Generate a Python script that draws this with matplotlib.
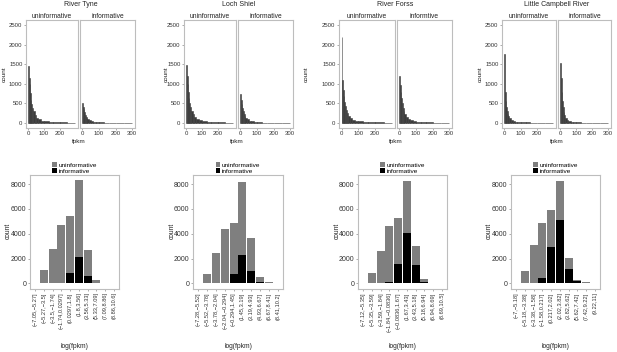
import numpy as np
import matplotlib
matplotlib.use("Agg")
import matplotlib.pyplot as plt

plt.rcParams['font.family'] = ['Liberation Sans', 'DejaVu Sans']

W, H = 617, 352

rivers = ['River Tyne', 'Loch Shiel', 'River Forss', 'Little Campbell River']
facet_names = [['uninformative', 'informative'],
               ['uninformative', 'informative'],
               ['uninformative', 'informtive'],
               ['uninformative', 'informative']]

# fpkm histogram bins (heights)
fpkm_edges = [0, 4, 8, 12, 16, 20, 25, 30, 40, 50, 65, 80, 100, 130, 160, 200,
              250, 300]

tyne_uninf = [1450, 1150, 990, 760, 600, 490, 380, 300, 210, 140, 95, 65, 45, 33,
              25, 18, 12]
tyne_inf = [520, 420, 350, 270, 210, 165, 130, 100, 70, 48, 33, 23, 16, 12, 9, 6, 4]
shiel_uninf = [1480, 1200, 1000, 800, 640, 510, 400, 310, 220, 150, 100, 70, 48,
               35, 26, 19, 12]
shiel_inf = [730, 600, 480, 380, 300, 235, 180, 135, 95, 65, 45, 30, 21, 15, 11,
             8, 5]
forss_uninf = [2200, 1100, 850, 680, 540, 430, 340, 260, 190, 130, 90, 62, 44, 32,
               24, 17, 11]
forss_inf = [1200, 980, 790, 630, 500, 390, 300, 225, 160, 108, 74, 50, 35, 25,
             18, 12, 8]
lcr_uninf = [1750, 780, 560, 420, 320, 240, 180, 125, 85, 58, 40, 30, 22, 17, 13,
             10, 7]
lcr_inf = [1520, 1160, 800, 560, 400, 285, 200, 130, 80, 50, 33, 22, 16, 12, 9,
           7, 5]

fpkm_counts = [(tyne_uninf, tyne_inf), (shiel_uninf, shiel_inf),
               (forss_uninf, forss_inf), (lcr_uninf, lcr_inf)]

# log(fpkm) binned counts: total height and informative part
tyne_bins = ['(−7.05,−5.27]', '(−5.27,−3.5]', '(−3.5,−1.74]', '(−1.74,0.0297]',
             '(0.0297,1.8]', '(1.8,3.56]', '(3.56,5.33]', '(5.33,7.09]',
             '(7.09,8.86]', '(8.86,10.6]']
shiel_bins = ['(−7.28,−5.52]', '(−5.52,−3.78]', '(−3.78,−2.04]', '(−2.04,−0.294]',
              '(−0.294,1.45]', '(1.45,3.19]', '(3.19,4.93]', '(4.93,6.67]',
              '(6.67,8.41]', '(8.41,10.2]']
forss_bins = ['(−7.12,−5.35]', '(−5.35,−3.59]', '(−3.59,−1.84]', '(−1.84,−0.0836]',
              '(−0.0836,1.67]', '(1.67,3.43]', '(3.43,5.18]', '(5.18,6.94]',
              '(6.94,8.69]', '(8.69,10.5]']
lcr_bins = ['(−7,−5.18]', '(−5.18,−3.38]', '(−3.38,−1.58]', '(−1.58,0.217]',
            '(0.217,2.02]', '(2.02,3.82]', '(3.82,5.62]', '(5.62,7.42]',
            '(7.42,9.22]', '(9.22,11]']

tyne_total = [30, 1050, 2800, 4700, 5400, 8300, 2700, 270, 70, 5]
tyne_info = [0, 0, 0, 50, 800, 2130, 590, 60, 10, 0]
shiel_total = [20, 780, 2450, 4350, 4900, 8200, 3700, 500, 90, 5]
shiel_info = [0, 0, 0, 40, 790, 2300, 1000, 100, 20, 0]
forss_total = [50, 850, 2600, 4600, 5250, 8250, 3000, 320, 70, 10]
forss_info = [0, 0, 0, 100, 1590, 4050, 1450, 130, 20, 0]
lcr_total = [60, 1000, 3100, 4850, 5950, 8250, 2050, 265, 80, 5]
lcr_info = [0, 0, 0, 450, 2950, 5150, 1200, 170, 30, 0]

log_bins = [tyne_bins, shiel_bins, forss_bins, lcr_bins]
log_counts = [(tyne_total, tyne_info), (shiel_total, shiel_info),
              (forss_total, forss_info), (lcr_total, lcr_info)]

# layout, in pixels
top_boxes = [(26, 78, 80, 135), (184, 236, 238, 293),
             (339, 395, 397, 452), (502, 556, 558, 611)]
bot_boxes = [(30, 119), (193, 283), (358, 447), (511, 600)]
top_ylab_x = [4, 166, 306, 480]
bot_ylab_x = [8, 172, 337, 489]

fig = plt.figure(figsize=(W / 100, H / 100), dpi=100)


def px_axes(l, t, r, b):
    return fig.add_axes([l / W, 1 - b / H, (r - l) / W, (b - t) / H])


def ftext(x, y, s, **kw):
    fig.text(x / W, 1 - y / H, s, **kw)


def style(ax, size):
    for sp in ax.spines.values():
        sp.set_color('#bdbdbd')
        sp.set_linewidth(0.8)
    ax.tick_params(length=1.5, width=0.5, color='#8c8c8c', pad=1,
                   labelsize=size, labelcolor='#333333')


edges = np.array(fpkm_edges)
widths = np.diff(edges)

for i in range(4):
    l1, r1, l2, r2 = top_boxes[i]
    for j, (l, r) in enumerate([(l1, r1), (l2, r2)]):
        ax = px_axes(l, 20, r, 128)
        ax.bar(edges[:-1], fpkm_counts[i][j], width=widths, align='edge',
               color='#3c3c3c', edgecolor='#3c3c3c', linewidth=0.4)
        ax.set_xlim(-15, 318)
        ax.set_ylim(-125, 2625)
        style(ax, 4.3)
        ax.set_yticks([0, 500, 1000, 1500, 2000, 2500])
        if j == 0:
            ax.set_xticks([0, 100, 200])
        else:
            ax.set_xticks([0, 100, 200, 300])
            ax.tick_params(axis='y', left=False, labelleft=False)
        ftext((l + r) / 2, 16, facet_names[i][j], ha='center', va='center',
              fontsize=4.8, color='#222222')
    ftext((l1 + r2) / 2, 5, rivers[i], ha='center', va='center',
          fontsize=5, color='#222222')
    ftext((r1 + l2) / 2, 141, 'fpkm', ha='center', va='center', fontsize=4.6,
          color='#222222')
    ftext(top_ylab_x[i], 74, 'count', ha='center', va='center', rotation=90,
          fontsize=4.6, color='#222222')

for i in range(4):
    l, r = bot_boxes[i]
    ax = px_axes(l, 175, r, 289)
    x = np.arange(1, 11)
    total, info = log_counts[i]
    ax.bar(x, total, width=0.9, color='#7f7f7f', linewidth=0,
           label='uninformative')
    ax.bar(x, info, width=0.9, color='#000000', linewidth=0,
           label='informative')
    ax.set_xlim(0.4, 10.6)
    ax.set_ylim(-450, 8740)
    style(ax, 5)
    ax.set_yticks([0, 2000, 4000, 6000, 8000])
    ax.set_xticks(x)
    ax.set_xticklabels(log_bins[i], rotation=90, fontsize=4.1)
    ax.legend(loc='lower center', bbox_to_anchor=(0.5, 1.0), frameon=False,
              fontsize=4.6, handlelength=0.7, handleheight=0.7,
              handletextpad=0.3, labelspacing=0.05, borderpad=0.1,
              borderaxespad=0.1)
    ftext((l + r) / 2, 347, 'log(fpkm)', ha='center', va='center',
          fontsize=4.8, color='#222222')
    ftext(bot_ylab_x[i], 231, 'count', ha='center', va='center', rotation=90,
          fontsize=4.8, color='#222222')

fig.savefig('out.png', dpi=100)
